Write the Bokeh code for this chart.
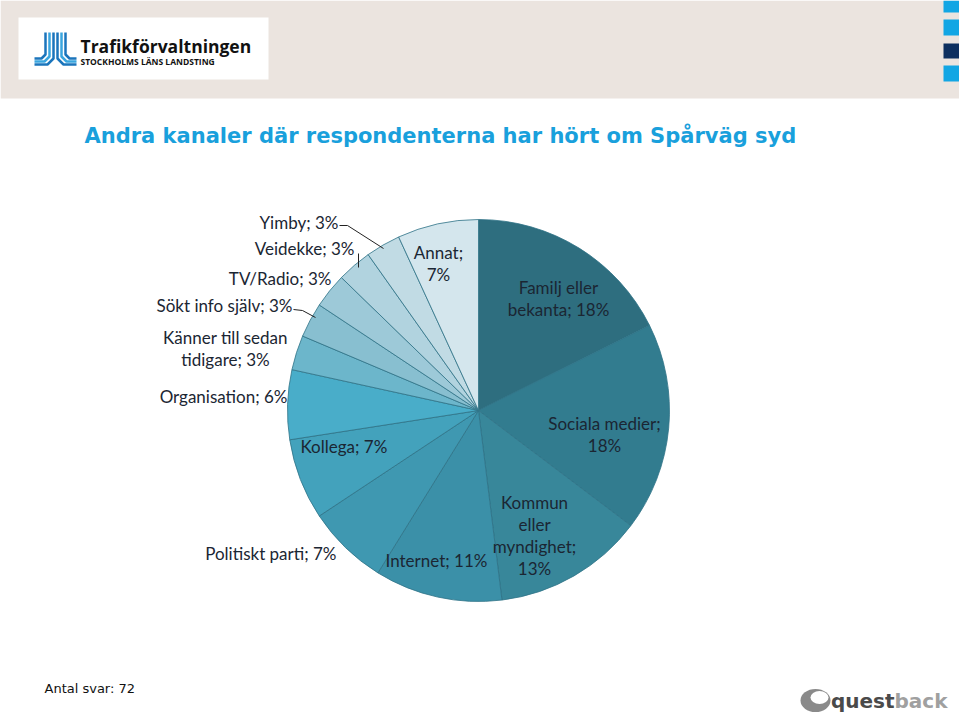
import math
from bokeh.plotting import figure
from bokeh.models import Range1d
from bokeh.core.properties import value
from bokeh.embed import file_html
from bokeh.resources import INLINE

# ---- data ----
categories = ["Familj eller bekanta", "Sociala medier", "Kommun eller myndighet", "Internet",
              "Politiskt parti", "Kollega", "Organisation", "Känner till sedan tidigare",
              "Sökt info själv", "TV/Radio", "Veidekke", "Yimby", "Annat"]
percent = [18, 18, 13, 11, 7, 7, 6, 3, 3, 3, 3, 3, 7]
colors = ["#2e6e7f", "#327c8f", "#38879a", "#3b90a8", "#3f98b1", "#43a2bc", "#49adc9",
          "#6cb6cb", "#88bfd0", "#9dc9d8", "#b1d3df", "#c1dbe4", "#d4e6ed"]
title_text = "Andra kanaler där respondenterna har hört om Spårväg syd"
footer_text = "Antal svar: 72"

W, H = 959, 716
def Y(sy):
    return H - sy

p = figure(width=W, height=H, output_backend="svg", toolbar_location=None,
           x_range=Range1d(0, W), y_range=Range1d(0, H), min_border=0)
p.axis.visible = False
p.grid.visible = False
p.outline_line_color = None
p.background_fill_color = "white"
p.border_fill_color = "white"

# header band
p.quad(left=[0], right=[W], bottom=[Y(98)], top=[Y(0)], fill_color="#ebe4df", line_color=None)
# logo box
p.quad(left=[18], right=[268], bottom=[Y(79)], top=[Y(17)], fill_color="white", line_color=None)
# logo symbol (JL)
sym_x, sym_y, sym_c = [], [], []
for i in range(3):
    xo = 45 + i * 4
    sym_x.append([xo, xo, xo - 4 - i, 34])
    sym_y.append([Y(32), Y(54 + i * 2), Y(58 + i * 3), Y(58 + i * 3)])
    sym_c.append("#1b75bc" if i != 1 else "#3aa6df")
    xo2 = 57 + i * 4
    sym_x.append([xo2, xo2, xo2 + 4 + (2 - i), 76])
    sym_y.append([Y(32), Y(54 + (2 - i) * 2), Y(58 + (2 - i) * 3), Y(58 + (2 - i) * 3)])
    sym_c.append("#1b75bc" if i != 1 else "#3aa6df")
p.multi_line(xs=sym_x, ys=sym_y, line_color=sym_c, line_width=2.5)
p.text(x=[80], y=[Y(45)], text=["Trafikförvaltningen"], text_font=value("Open Sans"),
       text_font_style="bold", text_font_size="17.5px", text_color="#111111",
       text_baseline="middle", text_align="left")
p.text(x=[80], y=[Y(61)], text=["STOCKHOLMS LÄNS LANDSTING"], text_font=value("Open Sans"),
       text_font_style="bold", text_font_size="8.5px", text_color="#111111",
       text_baseline="middle", text_align="left")

# right squares
sq_top = [0, 19, 43, 65]
sq_bot = [12, 35, 58, 81]
sq_col = ["#12a6e4", "#12a6e4", "#0d2f5f", "#12a6e4"]
p.quad(left=[943] * 4, right=[W] * 4, top=[Y(t) for t in sq_top],
       bottom=[Y(b) for b in sq_bot], fill_color=sq_col, line_color=None)

# title
p.text(x=[84], y=[Y(135)], text=[title_text], text_font=value("DejaVu Sans"),
       text_font_style="bold", text_font_size="21px", text_color="#19a0dc",
       text_baseline="middle", text_align="left")

# pie
cx, cy, r = 478, Y(410), 191
total = float(sum(percent))
starts, ends = [], []
cum = 0.0
for v in percent:
    a0 = math.pi / 2 - 2 * math.pi * cum / total
    cum += v
    a1 = math.pi / 2 - 2 * math.pi * cum / total
    starts.append(a1)
    ends.append(a0)
p.wedge(x=[cx] * len(percent), y=[cy] * len(percent), radius=r,
        start_angle=starts, end_angle=ends, fill_color=colors,
        line_color="#2e7286", line_width=0.8)

# labels
lab = [
    ("Familj eller\nbekanta; 18%", 558, 287, "center"),
    ("Sociala medier;\n18%", 604, 423, "center"),
    ("Kommun\neller\nmyndighet;\n13%", 534, 502, "center"),
    ("Internet; 11%", 436, 560, "center"),
    ("Politiskt parti; 7%", 336, 553, "right"),
    ("Kollega; 7%", 300, 446, "left"),
    ("Organisation; 6%", 287, 396, "right"),
    ("Känner till sedan\ntidigare; 3%", 225, 337, "center"),
    ("Sökt info själv; 3%", 292, 305, "right"),
    ("TV/Radio; 3%", 331, 278, "right"),
    ("Veidekke; 3%", 354, 248, "right"),
    ("Yimby; 3%", 338, 222, "right"),
    ("Annat;\n7%", 438, 252, "center"),
]
for i, (name, v) in enumerate(zip(categories, percent)):
    txt, x, y, al = lab[i]
    for j, ln in enumerate(txt.split("\n")):
        p.text(x=[x], y=[Y(y + j * 22)], text=[ln], text_font=value("Lato"),
               text_font_size="17px", text_color="#1b2633",
               text_baseline="middle", text_align=al)

# leader lines
p.multi_line(xs=[[339, 347, 383], [358, 358], [293, 302, 315]],
             ys=[[Y(225), Y(225), Y(248)], [Y(253), Y(267)], [Y(309), Y(310), Y(317)]],
             line_color="#222222", line_width=1)

# footer
p.text(x=[44], y=[Y(688)], text=[footer_text], text_font=value("DejaVu Sans"),
       text_font_size="13px", text_color="#111111", text_baseline="middle", text_align="left")
# questback logo
p.ellipse(x=[815], y=[Y(700)], width=30, height=23, fill_color="#8a8a8a", line_color=None)
p.ellipse(x=[819], y=[Y(697)], width=18, height=13, fill_color="white", line_color=None)
p.text(x=[894], y=[Y(700)], text=["quest"], text_font=value("DejaVu Sans"),
       text_font_style="bold", text_font_size="20px", text_color="#4a4a4a",
       text_baseline="middle", text_align="right")
p.text(x=[894], y=[Y(700)], text=["back"], text_font=value("DejaVu Sans"),
       text_font_style="bold", text_font_size="20px", text_color="#a0a0a0",
       text_baseline="middle", text_align="left")

open("out.html", "w").write(file_html(p, INLINE))
